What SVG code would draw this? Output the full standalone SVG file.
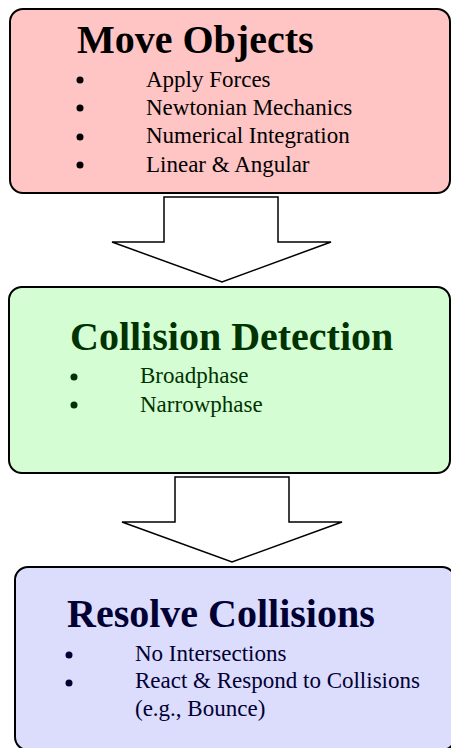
<svg xmlns="http://www.w3.org/2000/svg" width="451" height="748" viewBox="0 0 451 748">
<style>
.box{stroke:#000;stroke-width:2}
text{font-family:'Liberation Serif','Times New Roman',Times,'DejaVu Serif',serif}
.title{font-weight:bold;font-size:40px}
.item{font-size:23px}
.arrow{fill:#fff;stroke:#000;stroke-width:1.5;stroke-linejoin:miter}
</style>
<rect width="451" height="748" fill="#fff"/>
<g id="connectors">
<polygon class="arrow" points="164,197 278,197 278,242 331,242 222,282 112,242 164,242"/>
<polygon class="arrow" points="175,477 289,477 289,522 342,522 232,562 122,522 175,522"/>
</g>
<g id="move-objects">
<rect class="box" x="10" y="9" width="440" height="184" rx="13" fill="#ffc4c4"/>
<text class="title" x="77" y="53" fill="#000" font-family="Liberation Serif, serif">Move Objects</text>
<g fill="#000">
<circle cx="80" cy="80" r="3.5"/><circle cx="80" cy="108" r="3.5"/><circle cx="80" cy="137" r="3.5"/><circle cx="80" cy="165" r="3.5"/>
<text class="item" x="146" y="87">Apply Forces</text>
<text class="item" x="146" y="115">Newtonian Mechanics</text>
<text class="item" x="146" y="143">Numerical Integration</text>
<text class="item" x="146" y="172">Linear &amp; Angular</text>
</g>
</g>
<g id="collision-detection">
<rect class="box" x="9" y="287" width="441" height="186" rx="13" fill="#d4fdd4"/>
<text class="title" x="70" y="350" fill="#003300">Collision Detection</text>
<g fill="#003300">
<circle cx="74" cy="377" r="3.5"/><circle cx="74" cy="405" r="3.5"/>
<text class="item" x="140" y="383">Broadphase</text>
<text class="item" x="140" y="412">Narrowphase</text>
</g>
</g>
<g id="resolve-collisions">
<rect class="box" x="15" y="567" width="440" height="183" rx="13" fill="#dcdcfd"/>
<text class="title" x="67" y="627" fill="#000033">Resolve Collisions</text>
<g fill="#000033">
<circle cx="69" cy="655" r="3.5"/><circle cx="69" cy="683" r="3.5"/>
<text class="item" x="135" y="661">No Intersections</text>
<text class="item" x="135" y="688">React &amp; Respond to Collisions</text>
<text class="item" x="135" y="716">(e.g., Bounce)</text>
</g>
</g>
</svg>
